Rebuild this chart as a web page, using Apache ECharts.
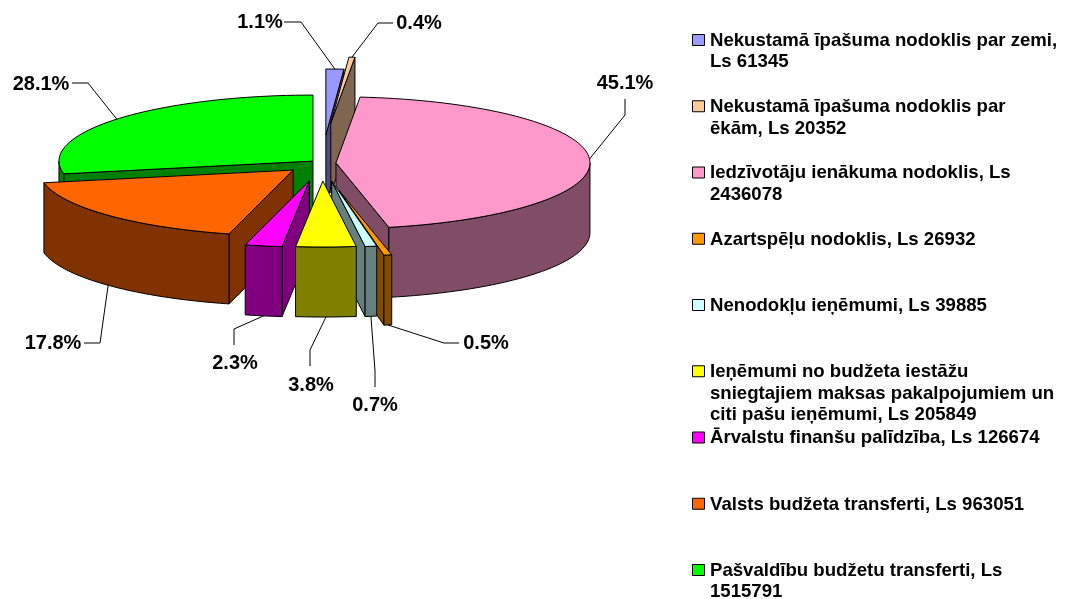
<!DOCTYPE html>
<html lang="lv">
<head>
	<meta charset="UTF-8">
	<title>Ieņēmumi</title>
	<script src="https://cdn.jsdelivr.net/npm/echarts@6/dist/echarts.min.js"></script>
	<style>
		html, body, #content { width: 100%; height: 100%; margin: 0; background: #fff; }
	</style>
</head>
<body>
	<div id="content"></div>
	<script>
		var categories = [
			'Nekustamā īpašuma nodoklis par zemi,\nLs 61345',
			'Nekustamā īpašuma nodoklis par\nēkām, Ls 20352',
			'Iedzīvotāju ienākuma nodoklis, Ls\n2436078',
			'Azartspēļu nodoklis, Ls 26932',
			'Nenodokļu ieņēmumi, Ls 39885',
			'Ieņēmumi no budžeta iestāžu\nsniegtajiem maksas pakalpojumiem un\nciti pašu ieņēmumi, Ls 205849',
			'Ārvalstu finanšu palīdzība, Ls 126674',
			'Valsts budžeta transferti, Ls 963051',
			'Pašvaldību budžetu transferti, Ls\n1515791'
		];
		var values = [61345, 20352, 2436078, 26932, 39885, 205849, 126674, 963051, 1515791];

		// look of the slices
		var topColors = ['#9999FF', '#FFCC99', '#FF99CC', '#FF9900', '#CCFFFF', '#FFFF00', '#FF00FF', '#FF6600', '#00FF00'];
		var sideColors = ['#4C4C80', '#806650', '#804C66', '#804C00', '#668080', '#808000', '#800080', '#803300', '#008000'];
		var explode = [0.424, 0.608, 0.055, 0.417, 0.277, 0.273, 0.277, 0.156, 0.046];
		var explodeTilt = [0, -1.5, 0, 2, 1, 0, 0, 0, 0]; // degrees
		var drawOrder = [8, 7, 6, 0, 1, 2, 3, 4, 5];

		// leader elbows and label centres, one per slice
		var labelElbow = [[301, 22], [378, 23], [625, 115], [444, 343], [375, 371], [310, 350], [234, 329], [100, 343], [88, 83]];
		var labelEnd = [[284, 22], [393, 23], [625, 99], [459, 343], [375, 387], [310, 366], [234, 345], [84, 343], [72, 83]];
		var labelPos = [[260, 22], [419, 23], [625, 83], [486, 343], [375, 405], [311, 385], [235, 363], [53, 343], [41, 84]];

		var FONT = '"Liberation Sans", Arial, sans-serif';
		var CX = 322, CY = 163, RX = 254, RY = 66, DEPTH = 70;
		var LEGEND_TOP = 40, LEGEND_STEP = 66.25;

		var total = values.reduce(function (a, b) { return a + b; }, 0);
		var angles = [0];
		values.forEach(function (v, i) { angles.push(angles[i] + v / total * Math.PI * 2); });

		function sliceInfo(i) {
			var a0 = angles[i], a1 = angles[i + 1], mid = (a0 + a1) / 2;
			var dir = mid + explodeTilt[i] * Math.PI / 180;
			return {
				a0: a0, a1: a1, mid: mid,
				x: CX + explode[i] * RX * Math.sin(dir),
				y: CY - explode[i] * RY * Math.cos(dir)
			};
		}
		function rim(s, a, drop) {
			return [s.x + RX * Math.sin(a), s.y - RY * Math.cos(a) + (drop || 0)];
		}
		function arcPoints(s, a0, a1, drop) {
			var n = Math.max(2, Math.ceil((a1 - a0) / (Math.PI / 90))), pts = [];
			for (var k = 0; k <= n; k++) pts.push(rim(s, a0 + (a1 - a0) * k / n, drop));
			return pts;
		}
		function poly(points, fill) {
			return {
				type: 'polygon',
				shape: { points: points },
				style: { fill: fill, stroke: '#000', lineWidth: 1, lineJoin: 'round' }
			};
		}

		function renderSlice(params, api) {
			var i = api.value(1), s = sliceInfo(i), side = sideColors[i], kids = [];
			var apex = [s.x, s.y], apexLow = [s.x, s.y + DEPTH];
			// cut face that looks towards the viewer
			var cutA = Math.sin(s.a1) > 0 ? s.a1 : (Math.sin(s.a0) < 0 ? s.a0 : null);
			if (cutA !== null) {
				kids.push(poly([apex, rim(s, cutA), rim(s, cutA, DEPTH), apexLow], side));
			}
			// curved wall, only the front half of the pie shows it
			var w0 = Math.max(s.a0, Math.PI / 2), w1 = Math.min(s.a1, Math.PI * 1.5);
			if (w1 > w0) {
				kids.push(poly(arcPoints(s, w0, w1).concat(arcPoints(s, w0, w1, DEPTH).reverse()), side));
			}
			kids.push(poly([apex].concat(arcPoints(s, s.a0, s.a1)), topColors[i]));
			return { type: 'group', children: kids };
		}

		function renderLabel(params, api) {
			var i = api.value(1), s = sliceInfo(i);
			var start = rim(s, s.mid, Math.cos(s.mid) < 0 ? DEPTH : 0);
			return {
				type: 'group',
				children: [{
					type: 'polyline',
					shape: { points: [start, labelElbow[i], labelEnd[i]] },
					style: { fill: null, stroke: '#000', lineWidth: 1 }
				}, {
					type: 'text',
					style: {
						x: labelPos[i][0], y: labelPos[i][1],
						text: (api.value(0) / total * 100).toFixed(1) + '%',
						align: 'center', verticalAlign: 'middle',
						font: 'bold 20px ' + FONT, fill: '#000'
					}
				}]
			};
		}

		// legend keeps an even step whatever the number of lines, so it is laid out by hand
		var legendItems = [];
		categories.forEach(function (name, i) {
			var y = LEGEND_TOP + i * LEGEND_STEP;
			legendItems.push({
				type: 'rect',
				shape: { x: 692.5, y: y - 5.5, width: 12, height: 11 },
				style: { fill: topColors[i], stroke: '#000', lineWidth: 1 }
			});
			legendItems.push({
				type: 'text',
				style: {
					x: 710, y: y - 10,
					text: name, lineHeight: 21.5,
					font: 'bold 18.6px ' + FONT, fill: '#000'
				}
			});
		});

		var chart = echarts.init(document.getElementById('content'));
		chart.setOption({
			animation: false,
			backgroundColor: '#fff',
			graphic: legendItems,
			series: [{
				type: 'custom',
				coordinateSystem: 'none',
				renderItem: renderSlice,
				data: drawOrder.map(function (i) { return { name: categories[i], value: [values[i], i] }; })
			}, {
				type: 'custom',
				coordinateSystem: 'none',
				renderItem: renderLabel,
				z: 5,
				data: values.map(function (v, i) { return { name: categories[i], value: [v, i] }; })
			}]
		});
		window.onresize = chart.resize;
	</script>
</body>
</html>
